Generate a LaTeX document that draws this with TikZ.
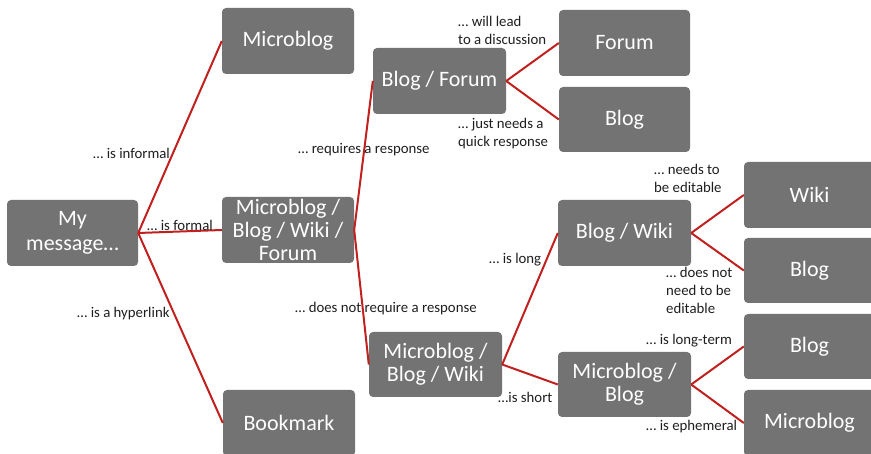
\documentclass[tikz,border=0pt]{standalone}
\usepackage{fontspec}
\setmainfont{Carlito}
\definecolor{boxgray}{RGB}{115,115,115}
\definecolor{linered}{RGB}{192,32,30}
\definecolor{labeltext}{RGB}{30,30,30}
\begin{document}
\begin{tikzpicture}[x=1pt,y=-1pt,
  box/.style={fill=boxgray, rounded corners=4pt, minimum width=132pt, minimum height=66pt,
    inner sep=0pt, text=white, align=center, font=\fontsize{22}{23}\selectfont},
  lbl/.style={anchor=west, inner sep=0pt, text=labeltext, align=left, font=\fontsize{14.8}{18}\selectfont},
  conn/.style={draw=linered, line width=2pt}]
\useasboundingbox (0,0) rectangle (871,454);
\clip (0,0) rectangle (871,454);
% nodes
\node[box, minimum width=131pt, font=\fontsize{22}{25}\selectfont] (msg) at (72.5,233) {My\\message…};
\node[box] (mb1) at (288,41) {Microblog};
\node[box] (mbwf) at (288,230) {Microblog /\\Blog / Wiki /\\Forum};
\node[box] (bm) at (289,423) {Bookmark};
\node[box, minimum width=133pt] (bf) at (439.5,81) {Blog / Forum};
\node[box, minimum width=131pt] (fo) at (624.5,43) {Forum};
\node[box, minimum width=131pt, minimum height=65pt] (bl1) at (624.5,119.5) {Blog};
\node[box, minimum width=133pt, minimum height=65pt] (mbw) at (435.5,364.5) {Microblog /\\Blog / Wiki};
\node[box, minimum width=133pt] (bw) at (624.5,233) {Blog / Wiki};
\node[box, minimum width=133pt, minimum height=65pt] (mbb) at (624.5,384.5) {Microblog /\\Blog};
\node[box, minimum width=131pt] (wiki) at (809.5,195) {Wiki};
\node[box, minimum width=131pt, minimum height=65pt] (bl2) at (809.5,270.5) {Blog};
\node[box, minimum width=131pt, minimum height=65pt] (bl3) at (809.5,346.5) {Blog};
\node[box, minimum width=131pt] (mb2) at (809.5,423) {Microblog};
% connectors
\draw[conn] (msg.east) -- (mb1.west);
\draw[conn] (msg.east) -- (mbwf.west);
\draw[conn] (msg.east) -- (bm.west);
\draw[conn] (mbwf.east) -- (bf.west);
\draw[conn] (mbwf.east) -- (mbw.west);
\draw[conn] (bf.east) -- (fo.west);
\draw[conn] (bf.east) -- (bl1.west);
\draw[conn] (mbw.east) -- (bw.west);
\draw[conn] (mbw.east) -- (mbb.west);
\draw[conn] (bw.east) -- (wiki.west);
\draw[conn] (bw.east) -- (bl2.west);
\draw[conn] (mbb.east) -- (bl3.west);
\draw[conn] (mbb.east) -- (mb2.west);
% labels
\node[lbl] (l1) at (93,153) {… is informal};
\node[lbl] (l2) at (147,225) {… is formal};
\node[lbl] (l3) at (77,314) {… is a hyperlink};
\node[lbl] (l4) at (298,150) {… requires a response};
\node[lbl] (l5) at (295,309) {… does not require a response};
\node[lbl] (l6) at (458,30) {… will lead\\to a discussion};
\node[lbl] (l7) at (458,133.5) {… just needs a\\quick response};
\node[lbl] (l8) at (654,178.5) {… needs to\\be editable};
\node[lbl] (l9) at (666,290) {… does not\\need to be\\editable};
\node[lbl] (l10) at (489,260) {… is long};
\node[lbl] (l11) at (498,397) {…is short};
\node[lbl] (l12) at (646,341) {… is long-term};
\node[lbl] (l13) at (646,427) {… is ephemeral};
\end{tikzpicture}
\end{document}
